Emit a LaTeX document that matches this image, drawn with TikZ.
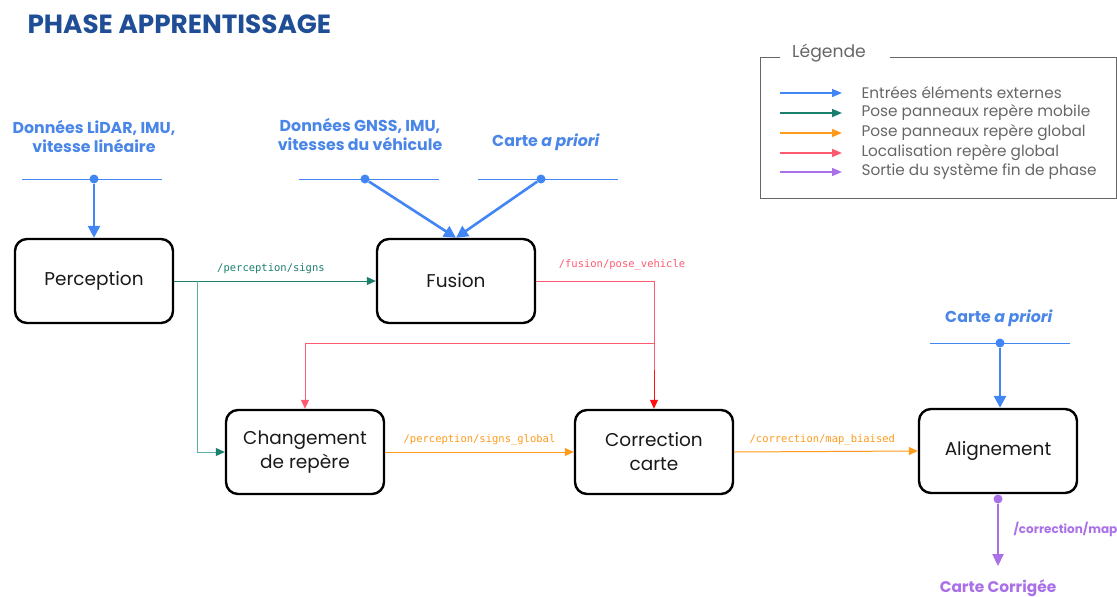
\documentclass[tikz,border=0pt]{standalone}
\usepackage{fontspec}
\setmainfont{Poppins}
\setmonofont{DejaVu Sans Mono}
\usetikzlibrary{arrows.meta}
\definecolor{titleblue}{HTML}{1F4E96}
\definecolor{inblue}{HTML}{4285F4}
\definecolor{labblue}{HTML}{4A86E8}
\definecolor{mobgreen}{HTML}{1B7F6E}
\definecolor{mobgreenl}{HTML}{5AAFA0}
\definecolor{globorange}{HTML}{FF9A1A}
\definecolor{locpink}{HTML}{FF5A70}
\definecolor{locred}{HTML}{FF1010}
\definecolor{outpurple}{HTML}{A970E8}
\definecolor{legendgray}{HTML}{666666}
\tikzset{
  procbox/.style={draw=black, line width=2.4pt, rounded corners=12pt,
    minimum width=158pt, minimum height=84pt, align=center,
    font=\fontsize{18.5}{24}\selectfont, text=black!90},
  inlabel/.style={font=\bfseries\fontsize{15.8}{19}\selectfont, text=labblue, align=center},
  topic/.style={font=\ttfamily\fontsize{10.5}{12}\selectfont},
  bar/.style={inblue, line width=1pt},
  dot/.style={circle, fill=#1, inner sep=0pt, minimum size=9pt},
  inarrow/.style={inblue, line width=2.6pt, -{Triangle[length=12pt,width=12pt]}},
  thinarrow/.style={line width=1pt, -{Triangle[length=9pt,width=8pt]}},
  legarrow/.style={line width=1.5pt, -{Triangle[length=10pt,width=8pt]}},
  legtext/.style={anchor=west, font=\fontsize{15.3}{18}\selectfont, text=legendgray}
}
\begin{document}
\begin{tikzpicture}[x=1pt,y=-1pt]
\useasboundingbox (0,0) rectangle (1117,597);

% title
\node[anchor=west, font=\bfseries\fontsize{26.3}{30}\selectfont, text=titleblue] (title) at (24,24) {PHASE APPRENTISSAGE};

% legend frame
\draw[legendgray, line width=1pt] (780,57) -- (760,57) -- (760,198) -- (1116,198) -- (1116,57) -- (890,57);
\node[font=\fontsize{17.2}{20}\selectfont, text=legendgray] (legtitle) at (829,53) {Légende};
\foreach \y/\c/\t [count=\i] in {
  93/inblue/{Entrées éléments externes},
  113/mobgreen/{Pose panneaux repère mobile},
  133/globorange/{Pose panneaux repère global},
  153/locpink/{Localisation repère global},
  172/outpurple/{Sortie du système fin de phase}} {
  \coordinate (ls\i) at (780,\y);
  \coordinate (le\i) at (842,\y);
  \draw[legarrow, \c] (ls\i) -- (le\i);
  \node[legtext] (lt\i) at (858,\y) {\t};
}

% processing blocks
\node[procbox] (perc) at (94,281) {Perception};
\node[procbox] (fus) at (456,281) {Fusion};
\node[procbox] (chg) at (305,452) {Changement\\de repère};
\node[procbox] (corr) at (654,452) {Correction\\carte};
\node[procbox] (align) at (998,451) {Alignement};

% external inputs
\node[inlabel] (lidar) at (94,136) {Données LiDAR, IMU,\\vitesse linéaire};
\draw[bar] (22,179) -- (162,179);
\node[dot=inblue] (dlidar) at (94,179) {};
\draw[inarrow] (dlidar) -- (perc.north);

\node[inlabel] (gnss) at (360,134) {Données GNSS, IMU,\\vitesses du véhicule};
\draw[bar] (299,179) -- (439,179);
\node[dot=inblue] (dgnss) at (365,179) {};
\node[inlabel] (carte1) at (546,142) {Carte \textit{a priori}};
\draw[bar] (478,179) -- (618,179);
\node[dot=inblue] (dcarte1) at (541,179) {};
\draw[inarrow] (dgnss) -- (fus.north);
\draw[inarrow] (dcarte1) -- (fus.north);

\node[inlabel] (carte2) at (999,318) {Carte \textit{a priori}};
\draw[bar] (930,343) -- (1070,343);
\node[dot=inblue] (dcarte2) at (1000,343) {};
\draw[inarrow] (dcarte2) -- (dcarte2 |- align.north);

% mobile frame poses
\coordinate (gsplit) at (197,281);
\draw[thinarrow, mobgreen] (perc.east) -- (fus.west)
  node[pos=0.48, above=3pt, topic, text=mobgreen] (tsigns) {/perception/signs};
\draw[line width=1pt, mobgreenl, -{Triangle[length=9pt,width=8pt,color=mobgreen]}] (gsplit) |- (chg.west);

% vehicle localisation
\coordinate (rturn) at (654,281);
\coordinate (rsplit) at (654,343);
\coordinate (rbright) at (654,370);
\draw[locpink, line width=1pt] (fus.east) -- (rturn) -- (rbright);
\node[topic, text=locpink, anchor=south] (tpose) at (622,274) {/fusion/pose\_vehicle};
\draw[thinarrow, locred] (rbright) -- (corr.north);
\draw[thinarrow, locpink] (rsplit) -| (chg.north);

% global frame poses
\draw[thinarrow, globorange] (chg.east) -- (corr.west)
  node[pos=0.5, above=3pt, topic, text=globorange] (tglob) {/perception/signs\_global};
\draw[thinarrow, globorange] (corr.east) -- (align.west)
  node[pos=0.48, above=3pt, topic, text=globorange] (tbias) {/correction/map\_biaised};

% phase output
\node[dot=outpurple] (dout) at (998,499) {};
\coordinate (outend) at (998,566);
\draw[outpurple, line width=2.4pt, -{Triangle[length=12pt,width=11pt]}] (dout) -- (outend);
\node[anchor=west, font=\bfseries\fontsize{12}{14}\selectfont, text=outpurple] (tmap) at (1010,529) {/correction/map};
\node[font=\bfseries\fontsize{15.4}{18}\selectfont, text=outpurple] (cc) at (998,588) {Carte Corrigée};
\end{tikzpicture}
\end{document}
